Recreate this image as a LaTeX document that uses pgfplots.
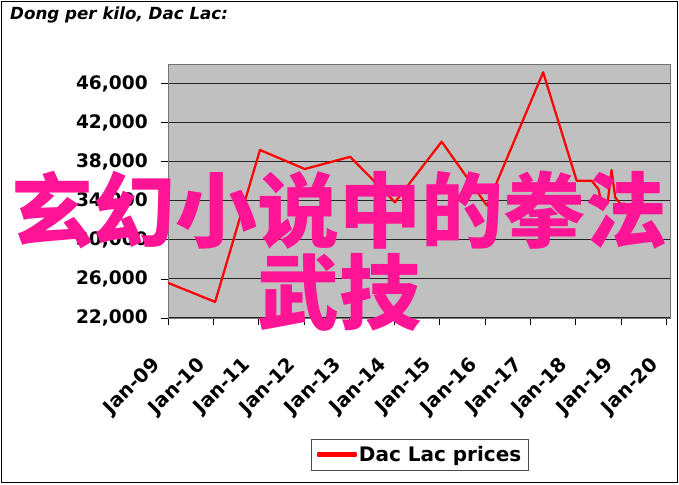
\documentclass[border=0pt]{standalone}
\usepackage{pgfplots}
\pgfplotsset{compat=1.18}
\usepackage{fontspec}
\setmainfont{DejaVu Sans}
\newfontfamily\cjk{Noto Sans CJK SC}
\definecolor{plotgray}{RGB}{192,192,192}
\definecolor{wmpink}{RGB}{255,20,150}

\begin{document}
\begin{tikzpicture}[x=1pt,y=1pt]
  % page size and outer frame
  \path (0,0) rectangle (679,-484);
  \draw[line width=1.6pt] (1.5,-1.5) rectangle (677.5,-482.5);

  \node[anchor=base west, inner sep=0pt, font=\fontsize{16.7}{19}\selectfont\bfseries\itshape]
    at (10,-20) {Dong per kilo, Dac Lac:};

  \begin{axis}[
    at={(168pt,-318pt)}, anchor=south west,
    width=502pt, height=254pt, scale only axis,
    xmin=0, xmax=11.08,
    ymin=22000, ymax=48000,
    axis background/.style={fill=plotgray},
    axis line style={draw=black!55, line width=0.8pt},
    xtick={0,1,2,3,4,5,6,7,8,9,10,11},
    xticklabels={Jan-09,Jan-10,Jan-11,Jan-12,Jan-13,Jan-14,Jan-15,Jan-16,Jan-17,Jan-18,Jan-19,Jan-20},
    ytick={22000,26000,30000,34000,38000,42000,46000},
    ymajorgrids,
    grid style={black!85, line width=1.1pt},
    tick align=outside,
    major tick length=7pt,
    tick style={black, line width=0.8pt},
    xtick pos=bottom, ytick pos=left,
    /pgf/number format/assume math mode=true,
    /pgf/number format/fixed,
    /pgf/number format/1000 sep={,},
    scaled y ticks=false,
    yticklabel style={font=\fontsize{18.6}{21}\selectfont\bfseries, anchor=east, inner sep=0pt, xshift=-13pt},
    xticklabel style={font=\fontsize{19.5}{22}\selectfont\bfseries, inner sep=0pt, xshift=-11pt, yshift=-37pt, rotate=45, anchor=east},
    legend style={at={(0.502,-0.539)}, anchor=center, draw=black!70, line width=0.8pt,
      font=\fontsize{20}{23}\selectfont\bfseries, inner xsep=5pt, inner ysep=5.5pt},
    legend image code/.code={\fill[red] (0pt,-1.4pt) rectangle (38pt,1.4pt);},
  ]
    \addplot[red, line width=2.2pt, line join=round] coordinates {
      (0,25600) (1.04,23650) (2.03,39200) (3.02,37250) (4.02,38500)
      (5.01,33850) (6.04,40050) (7.04,33500) (8.28,47150) (9.02,36050)
      (9.35,36050) (9.50,35200) (9.59,33300) (9.70,33700) (9.79,37150)
      (9.87,34350) (9.98,33700) (10.09,33700) (10.20,32000) (10.31,31500)
    };
    \addlegendentry{Dac Lac prices}
  \end{axis}

  % overlaid caption text
  \node[wmpink, inner sep=0pt, font=\fontsize{82}{82}\selectfont\cjk\bfseries] at (339,-210) {玄幻小说中的拳法};
  \node[wmpink, inner sep=0pt, font=\fontsize{82}{82}\selectfont\cjk\bfseries] at (339,-292) {武技};
\end{tikzpicture}
\end{document}
